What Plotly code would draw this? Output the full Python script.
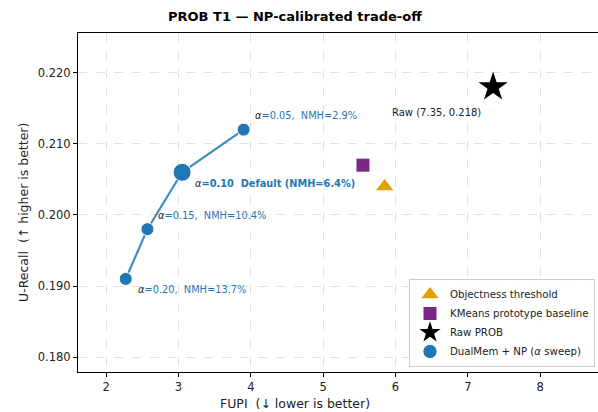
import plotly.graph_objects as go

# ---- data ----
alpha_labels = ["0.20", "0.15", "0.10", "0.05"]
nmh_labels = ["13.7%", "10.4%", "6.4%", "2.9%"]
dual_fupi = [2.27, 2.57, 3.05, 3.90]
dual_urecall = [0.191, 0.198, 0.206, 0.212]
dual_sizes = [13, 13, 18, 13]

obj_fupi = [5.85]
obj_urecall = [0.204]
km_fupi = [5.55]
km_urecall = [0.207]
raw_fupi = [7.35]
raw_urecall = [0.218]

xticks = [2, 3, 4, 5, 6, 7, 8]
yticks = [0.180, 0.190, 0.200, 0.210, 0.220]

BLUE = "#1f77b4"
FONT = "DejaVu Sans"
SP = "\u00a0"  # keep double spaces

fig = go.Figure()

fig.add_trace(go.Scatter(x=dual_fupi, y=dual_urecall, mode="lines",
                         line=dict(color="rgba(31,119,180,0.85)", width=2.2),
                         showlegend=False, hoverinfo="skip"))
fig.add_trace(go.Scatter(x=obj_fupi, y=obj_urecall, mode="markers",
                         name="Objectness threshold",
                         marker=dict(symbol="triangle-up", size=15, color="#E69F00")))
fig.add_trace(go.Scatter(x=km_fupi, y=km_urecall, mode="markers",
                         name="KMeans prototype baseline",
                         marker=dict(symbol="square", size=13, color="#762a83")))
fig.add_trace(go.Scatter(x=raw_fupi, y=raw_urecall, mode="markers",
                         name="Raw PROB",
                         marker=dict(symbol="star", size=22, color="black")))
fig.add_trace(go.Scatter(x=dual_fupi, y=dual_urecall, mode="markers",
                         name="DualMem + NP (<i>α</i> sweep)",
                         marker=dict(symbol="circle", size=dual_sizes, color=BLUE,
                                     opacity=1)))

# point annotations
shifts = [(10, -11), (9, 14), (11, -11), (9, 14)]
for i, (a, n) in enumerate(zip(alpha_labels, nmh_labels)):
    if a == "0.10":
        txt = f"<span style='color:#222'><i>α</i></span><b>=0.10 {SP}Default (NMH={n})</b>"
    else:
        txt = f"<span style='color:#222'><i>α</i></span>={a}, {SP}NMH={n}"
    xs, ys = shifts[i]
    fig.add_annotation(x=dual_fupi[i], y=dual_urecall[i], text=txt, showarrow=False,
                       xanchor="left", yanchor="middle", xshift=xs, yshift=ys,
                       font=dict(family=FONT, size=9.8, color=BLUE))

fig.add_annotation(x=raw_fupi[0], y=raw_urecall[0],
                   text=f"Raw ({raw_fupi[0]:.2f}, {raw_urecall[0]:.3f})",
                   showarrow=False, xanchor="left", yanchor="middle",
                   xshift=-103, yshift=-25,
                   font=dict(family=FONT, size=10, color="#222"))

W, H = 598, 412
L, R, T, B = 78, 0, 33, 40
pw, ph = W - L - R, H - T - B
def px(xs): return (xs - L) / pw
def py(ys): return (H - B - ys) / ph

fig.add_annotation(xref="paper", yref="paper", x=px(295), y=py(16),
                   text="<b>PROB T1 — NP-calibrated trade-off</b>", showarrow=False,
                   xanchor="center", yanchor="middle",
                   font=dict(family=FONT, size=13, color="black"))
fig.add_annotation(xref="paper", yref="paper", x=px(295), y=py(403),
                   text=f"FUPI {SP}(↓ lower is better)", showarrow=False,
                   xanchor="center", yanchor="middle",
                   font=dict(family=FONT, size=12.5, color="#222"))
fig.add_annotation(xref="paper", yref="paper", x=px(24), y=py(213),
                   text=f"U-Recall {SP}(↑ higher is better)", showarrow=False,
                   textangle=-90, xanchor="center", yanchor="middle",
                   font=dict(family=FONT, size=12.5, color="#222"))

axis_common = dict(showline=True, linecolor="black", linewidth=1.2,
                   ticks="outside", ticklen=4, tickcolor="black",
                   showgrid=True, gridcolor="#e2e2e2", griddash="dash", gridwidth=1,
                   zeroline=False, tickfont=dict(family=FONT, size=11.5, color="#222"))

fig.update_xaxes(range=[1.61, 8.80], tickvals=xticks, ticktext=[str(v) for v in xticks],
                 mirror=True, **axis_common)
fig.update_yaxes(range=[0.1779, 0.2256], tickvals=yticks,
                 ticktext=[f"{v:.3f}" for v in yticks], mirror=False, **axis_common)

fig.update_layout(
    width=W, height=H,
    margin=dict(l=L, r=R, t=T, b=B),
    plot_bgcolor="white", paper_bgcolor="white",
    font=dict(family=FONT, color="#222"),
    legend=dict(x=px(595), y=py(367), xanchor="right", yanchor="bottom",
                bgcolor="rgba(255,255,255,0.85)", bordercolor="#cccccc", borderwidth=1,
                font=dict(family=FONT, size=10.2, color="#222"),
                tracegroupgap=0, itemsizing="trace", itemwidth=30),
)

fig.write_html("out.html", config={"displayModeBar": False},
               post_script="document.body.style.margin='0';document.body.style.overflow='hidden';")
